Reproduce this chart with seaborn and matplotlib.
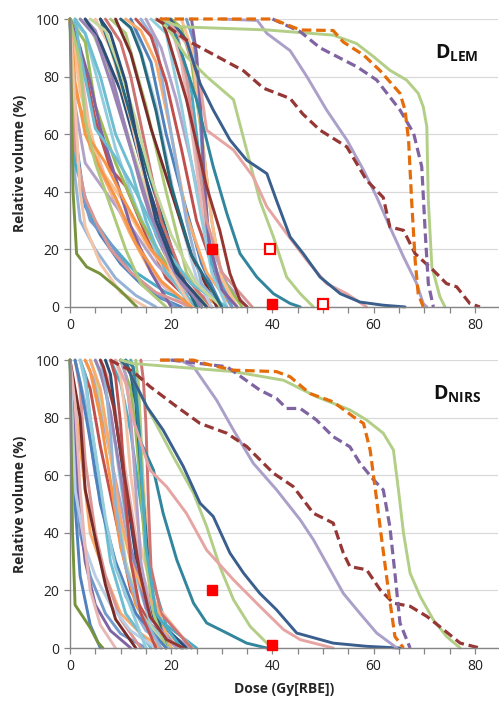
import numpy as np
import pandas as pd
import matplotlib
matplotlib.use("Agg")
import matplotlib.pyplot as plt
import seaborn as sns
from matplotlib.ticker import MultipleLocator

# ---------------- data: DVH curves (dose Gy[RBE], relative volume %) -------------
# LEM panel - prominent curves
lem_orange_x = [17.8, 40, 45.5, 52, 54, 58, 61.3, 65.2, 66.2, 66.9, 67.5, 68.2, 68.8, 69.8]
lem_orange_y = [100, 100, 96.2, 96, 92, 87.5, 82, 74.2, 68.4, 57.9, 37, 16.2, 4.6, 0]
lem_purple_x = [40, 45.5, 49.4, 56.7, 60.6, 65.2, 67.9, 69.5, 70.2, 70.8, 71.8]
lem_purple_y = [100, 95.6, 90, 83.4, 78.8, 68.4, 60.3, 48.7, 25.5, 8.1, 0]
lem_green_x = [17.8, 21.7, 38.9, 52, 56.6, 60, 63.2, 66.5, 68.8, 69.8, 70.5, 70.8, 71.5, 73.1, 74.1]
lem_green_y = [100, 97.3, 96.2, 94.4, 91.5, 86.9, 82.2, 78.8, 74.2, 69.5, 62.6, 37, 13.9, 3.5, 0]
lem_dred_x = [17, 18.4, 23, 28, 34.3, 38.2, 43.5, 46, 49.4, 54.7, 58.6, 61.9, 63.2, 65.9, 68.2, 71.8, 74.4, 76.4, 79, 81]
lem_dred_y = [100, 98.5, 92.7, 88, 82, 76, 72.4, 67, 61.4, 55.6, 44, 38, 27.8, 26.6, 18.5, 12.7, 8.1, 7, 1.2, 0]
lem_lav_x = [30, 37, 38.9, 43.5, 46.8, 50.7, 54.7, 58, 60.6, 63.2, 65.9, 68.5, 69.8, 70.5]
lem_lav_y = [100, 99.5, 95, 89, 80, 68.4, 58, 47.5, 38.2, 27.8, 17.4, 8.1, 1.2, 0]
lem_blue_x = [19.8, 23, 25.7, 28.3, 31.6, 34.9, 38.9, 40.8, 43.5, 46.1, 49.4, 53.4, 57.3, 61.9, 66.2]
lem_blue_y = [100, 92.7, 77.6, 68.4, 58, 51, 46.3, 37, 24.3, 18.5, 10.4, 4.6, 1.7, 0.6, 0]
lem_pink_x = [19, 23, 25.7, 27, 32.3, 36.2, 38.9, 42.8, 46.8, 50.7, 54.7, 58.6]
lem_pink_y = [100, 91.5, 77.6, 61.4, 54.5, 45.2, 34.8, 25.5, 16.2, 8.1, 4.6, 0]
lem_lgreen_x = [17, 19.1, 23, 27, 32.3, 34.9, 37.5, 40.2, 42.8, 45.5, 48.1]
lem_lgreen_y = [100, 97.3, 87, 80, 72, 54.5, 37, 24.3, 10.4, 4.6, 0]
lem_teal_x = [19, 20.4, 25, 28.3, 31, 33.6, 36.9, 40.2, 43.5, 45.5]
lem_teal_y = [100, 97, 72, 48.7, 32.4, 18.5, 10.4, 4.6, 1.2, 0]
lem_red_x = [18, 19.1, 23, 27, 29.6, 31.6, 33.6, 35]
lem_red_y = [100, 95, 72, 41.7, 26.6, 11.6, 2.3, 0]
lem_olive_x = [0, 0.6, 1.3, 3.3, 5.9, 9.9, 13.2]
lem_olive_y = [100, 40, 18.5, 13.9, 11.6, 5.8, 0]

# LEM panel - dense cluster of organ curves
lem_cluster = [
    ([0, 1, 3, 6, 10, 14, 18, 22], [100, 60, 35, 25, 15, 8, 3, 0]),
    ([0, 2, 4, 8, 12, 16, 20, 24], [100, 80, 55, 40, 25, 12, 5, 0]),
    ([0, 1, 2, 5, 9, 13, 17], [100, 45, 30, 20, 10, 4, 0]),
    ([0, 2, 5, 8, 11, 15, 19, 25], [100, 90, 65, 48, 42, 25, 10, 0]),
    ([0, 1, 3, 7, 12, 17, 22, 28], [100, 70, 50, 40, 28, 15, 6, 0]),
    ([0, 3, 6, 9, 13, 18, 24], [100, 95, 75, 55, 35, 15, 0]),
    ([0, 2, 4, 7, 10, 14, 18, 23], [100, 85, 60, 45, 33, 20, 8, 0]),
    ([0, 1, 4, 8, 13, 19, 26], [100, 50, 32, 22, 12, 5, 0]),
    ([0, 3, 5, 9, 14, 20, 27], [100, 92, 70, 50, 30, 12, 0]),
    ([0, 2, 6, 10, 15, 21, 28], [100, 75, 48, 38, 22, 8, 0]),
    ([0, 1, 2, 4, 8, 12, 16, 21], [100, 65, 42, 30, 22, 12, 6, 0]),
    ([0, 2, 4, 6, 9, 12, 16, 20], [100, 90, 78, 62, 45, 28, 12, 0]),
    ([0, 1, 3, 5, 8, 12, 17, 24], [100, 55, 38, 30, 20, 12, 5, 0]),
    ([1, 3, 6, 9, 12, 15, 19, 25], [100, 95, 80, 60, 48, 30, 12, 0]),
    ([0, 1, 4, 7, 11, 16, 22, 30], [100, 75, 58, 50, 36, 20, 8, 0]),
    ([2, 4, 7, 10, 14, 18, 22, 27], [100, 97, 85, 68, 45, 25, 10, 0]),
    ([3, 5, 8, 11, 14, 17, 21, 26], [100, 96, 82, 62, 42, 25, 10, 0]),
    ([3, 6, 10, 14, 18, 22, 26], [100, 92, 75, 50, 28, 10, 0]),
    ([5, 8, 12, 16, 20, 24], [100, 90, 65, 35, 12, 0]),
    ([6, 9, 13, 17, 21, 25], [100, 85, 60, 38, 15, 0]),
    ([8, 11, 15, 19, 23, 27], [100, 95, 70, 40, 12, 0]),
    ([7, 10, 12, 15, 18, 22, 28], [100, 92, 80, 55, 30, 12, 0]),
    ([10, 13, 17, 21, 25, 28], [100, 95, 70, 35, 10, 0]),
    ([9, 12, 16, 20, 24, 29], [100, 88, 62, 40, 18, 0]),
    ([12, 16, 19, 22, 26, 30], [100, 85, 60, 40, 15, 0]),
    ([11, 14, 17, 20, 23, 27, 32], [100, 96, 85, 60, 32, 12, 0]),
    ([14, 17, 20, 23, 26, 30], [100, 92, 60, 30, 8, 0]),
    ([13, 16, 19, 22, 25, 29, 33], [100, 94, 78, 55, 30, 10, 0]),
    ([15, 18, 21, 24, 27, 31, 35], [100, 90, 72, 50, 25, 8, 0]),
    ([16, 19, 22, 25, 28, 31], [100, 95, 70, 40, 12, 0]),
    ([17, 20, 22, 24, 26, 29, 33], [100, 97, 85, 62, 35, 12, 0]),
    ([18, 21, 24, 26, 28, 32], [100, 95, 75, 45, 15, 0]),
    ([20, 22, 24, 26, 28, 30, 34], [100, 97, 85, 60, 30, 10, 0]),
    ([22, 24, 26, 28, 30, 33], [100, 90, 60, 30, 10, 0]),
    ([23, 24.5, 25.5, 26.2, 27, 29, 32], [100, 92, 75, 50, 28, 10, 0]),
    ([24, 25, 25.8, 26.5, 27.5, 30, 33], [100, 88, 70, 45, 22, 6, 0]),
    ([19, 21, 23, 25, 27, 30, 36], [100, 96, 80, 55, 30, 12, 0]),
    ([1, 2, 5, 9, 13, 18, 24, 31], [100, 88, 62, 52, 40, 22, 8, 0]),
    ([0, 1, 3, 6, 9, 13, 18, 24], [100, 78, 60, 48, 38, 22, 9, 0]),
    ([4, 7, 10, 13, 16, 20, 25, 30], [100, 96, 82, 65, 45, 25, 8, 0]),
    ([2, 5, 8, 12, 16, 20, 26], [100, 94, 78, 55, 32, 14, 0]),
    ([6, 8, 11, 14, 17, 21, 27], [100, 95, 78, 52, 30, 12, 0]),
    ([0, 1, 2, 3, 6, 10, 15], [100, 70, 40, 28, 15, 5, 0]),
    ([10, 12, 14, 17, 20, 24, 30], [100, 97, 88, 68, 42, 18, 0]),
    ([0, 2, 3, 5, 8, 11, 14, 19], [100, 85, 65, 50, 35, 20, 8, 0]),
]

# NIRS panel - prominent curves
nirs_orange_x = [17.8, 24.4, 27, 32.3, 40.8, 43.5, 47.4, 52, 56, 58, 59.3, 60.6, 61.6, 62.9, 64.2, 65.9]
nirs_orange_y = [100, 100, 98.6, 96.5, 96, 94.2, 88.4, 85.5, 80.3, 78, 68.8, 51.4, 37.6, 20.2, 4, 0]
nirs_purple_x = [20, 31, 37.5, 40.8, 42.8, 45.5, 48.7, 52, 55.3, 57.3, 60, 61.9, 63.2, 64.2, 65.2, 67.2]
nirs_purple_y = [100, 97.7, 89.6, 86.7, 83.2, 83.2, 79.2, 73.4, 69.9, 64.2, 58.4, 54.9, 42.2, 26, 8.7, 0]
nirs_green_x = [10, 12.5, 32.3, 42.2, 48.7, 55.3, 58.6, 61.9, 63.9, 64.9, 65.9, 67.2, 69.2, 71.8, 74.4, 77.1]
nirs_green_y = [100, 98.8, 96, 93, 87.3, 82.7, 79.2, 74.6, 68.8, 54.9, 39.9, 26, 17.9, 9.8, 4, 0]
nirs_dred_x = [8, 9.2, 12.5, 15.8, 21.1, 25.7, 31, 34.9, 40.2, 44.1, 48.1, 52, 54, 55.3, 58.6, 61.3, 63.9, 67.2, 70.5, 73.8, 77.1, 81]
nirs_dred_y = [100, 98.8, 96, 90.8, 83.8, 78, 74.6, 70, 60.7, 56.1, 46.8, 43.4, 33, 28.3, 27.2, 20.2, 15.6, 14.5, 11, 6.4, 1.7, 0]
nirs_lav_x = [18, 21.7, 24.4, 29, 32.3, 36.2, 40.8, 45.5, 48.1, 51.4, 54, 57.3, 60.6, 64.6]
nirs_lav_y = [100, 100, 97.7, 86, 75.7, 64.2, 55, 44.5, 37.6, 27.2, 19, 12, 5.2, 0]
nirs_blue_x = [10, 11.2, 15.2, 18.4, 22.4, 25.7, 28.3, 31.6, 34.3, 37.5, 40.8, 44.8, 52, 58.6, 65.2]
nirs_blue_y = [100, 97.7, 83.8, 75.7, 63, 50.3, 45.7, 33, 26, 19, 13.3, 5.2, 1.7, 0.6, 0]
nirs_lgreen_x = [10, 11.9, 15.2, 20.4, 24.4, 27, 29.6, 32.3, 35.6, 38.9, 40.8]
nirs_lgreen_y = [100, 95.4, 83.8, 66.5, 53.8, 42.2, 28.3, 16.8, 7.5, 1.7, 0]
nirs_pink_x = [9, 11, 12.5, 15.8, 19.1, 23, 27, 32.3, 37.5, 42.2, 45.5, 52]
nirs_pink_y = [100, 92, 79.2, 61.8, 56, 46.8, 34, 23.7, 14.5, 6.4, 2.9, 0]
nirs_teal_x = [11, 12.5, 13.8, 16.5, 18.4, 21.1, 24.4, 27, 31, 34.9, 38.9]
nirs_teal_y = [100, 97.7, 72.2, 61.8, 46.8, 30.6, 15.6, 8.7, 5.2, 1.7, 0]
nirs_red_x = [6, 6.6, 8.6, 11.2, 13.8, 15.8, 19.1, 22.4]
nirs_red_y = [100, 97.7, 83.8, 55, 26, 11, 2.9, 0]
nirs_olive_x = [0, 0.5, 1, 2.5, 4, 5.5, 6.5]
nirs_olive_y = [100, 40, 15, 11, 7, 2, 0]

# NIRS panel - dense cluster
nirs_cluster = [
    ([0, 1, 2, 4, 6], [100, 50, 25, 8, 0]),
    ([0, 2, 4, 7, 10, 14, 18], [100, 70, 40, 25, 12, 5, 0]),
    ([1, 3, 5, 8, 11, 15, 20], [100, 85, 60, 35, 18, 6, 0]),
    ([2, 4, 6, 9, 12, 16, 22], [100, 90, 70, 45, 20, 8, 0]),
    ([3, 5, 7, 10, 13, 17, 24], [100, 92, 75, 50, 25, 8, 0]),
    ([5, 7, 9, 11, 13, 16, 20], [100, 90, 70, 45, 25, 8, 0]),
    ([6, 8, 10, 12, 14, 17, 22], [100, 92, 72, 50, 28, 10, 0]),
    ([8, 10, 12, 14, 16, 19, 25], [100, 92, 75, 50, 25, 8, 0]),
    ([10, 12, 13, 14, 15, 17, 20], [100, 90, 75, 55, 30, 10, 0]),
    ([12, 13, 14, 15, 16, 18, 22], [100, 90, 70, 45, 20, 6, 0]),
    ([0, 1, 2, 4, 7, 10, 15], [100, 60, 40, 25, 12, 5, 0]),
    ([0, 1, 2, 3, 5, 8, 12], [100, 75, 45, 30, 15, 6, 0]),
    ([1, 2, 3, 5, 7, 10, 14], [100, 90, 65, 40, 25, 10, 0]),
    ([2, 3, 4, 6, 8, 11, 16], [100, 95, 80, 55, 30, 12, 0]),
    ([3, 4, 6, 8, 10, 13, 18], [100, 96, 80, 58, 35, 15, 0]),
    ([4, 5, 7, 9, 11, 14, 19], [100, 95, 78, 55, 30, 12, 0]),
    ([5, 6, 8, 10, 12, 15, 21], [100, 96, 82, 60, 35, 14, 0]),
    ([7, 8, 9, 11, 13, 16, 23], [100, 95, 80, 55, 32, 12, 0]),
    ([9, 10, 11, 12, 14, 17, 24], [100, 94, 80, 60, 35, 15, 0]),
    ([11, 12, 13, 14, 15, 16, 19], [100, 95, 85, 62, 40, 18, 0]),
    ([13, 13.5, 14, 14.5, 15, 16.5, 19], [100, 92, 75, 50, 30, 12, 0]),
    ([14, 14.5, 15, 15.5, 16, 18, 24], [100, 93, 78, 50, 28, 12, 0]),
    ([0, 1, 3, 5, 8, 12, 17], [100, 55, 35, 25, 15, 6, 0]),
    ([0, 2, 3, 5, 7, 9, 13], [100, 80, 55, 38, 22, 10, 0]),
    ([1, 2, 4, 6, 9, 13, 19], [100, 92, 72, 50, 30, 12, 0]),
    ([4, 6, 8, 10, 12, 15, 17, 20], [100, 90, 68, 45, 30, 18, 15, 0]),
    ([6, 7, 8, 9, 11, 14, 18], [100, 92, 75, 50, 28, 12, 0]),
    ([8, 9, 10, 11, 12, 14, 17], [100, 94, 78, 52, 30, 12, 0]),
    ([10, 11, 12, 13, 14, 16, 21], [100, 95, 80, 55, 30, 10, 0]),
    ([2, 3, 5, 7, 9, 12, 15], [100, 92, 68, 45, 28, 14, 0]),
    ([0, 1, 2, 3, 4, 6, 9], [100, 85, 55, 35, 20, 8, 0]),
    ([12, 12.8, 13.5, 14.2, 15, 17, 22], [100, 95, 80, 58, 35, 12, 0]),
]

# constraint markers (dose, volume)
lem_filled_x = [28, 40]
lem_filled_y = [20, 1]
lem_open_x = [39.5, 50]
lem_open_y = [20, 1]
nirs_filled_x = [28, 40]
nirs_filled_y = [20, 1]

palette = ["#4F81BD", "#F9AB6B", "#95B3D7", "#C0504D", "#B3A2C7", "#93CDDD",
           "#E6B9B8", "#4BACC6", "#9BBB59", "#FAC090", "#729ACA", "#8064A2",
           "#D99694", "#6FBDD1", "#F79646", "#C3D69B", "#9983B5", "#2C4D75",
           "#F2C4A8", "#276A7C", "#AFC97A", "#CD7371", "#B9CDE5", "#772C2A"]

sns.set_theme(style="white")
plt.rcParams['font.family'] = ['Open Sans', 'DejaVu Sans']
plt.rcParams['mathtext.fontset'] = 'custom'
plt.rcParams['mathtext.bf'] = 'Open Sans:bold'
plt.rcParams['mathtext.rm'] = 'Open Sans'

fig = plt.figure(figsize=(4.99, 7.04), dpi=100)
ax1 = fig.add_axes([0.1403, 0.564, 0.857, 0.409])
ax2 = fig.add_axes([0.1403, 0.0795, 0.857, 0.409])

LW = 2.1


def curve(ax, x, y, color, dashed=False):
    df = pd.DataFrame({'dose': x, 'vol': y})
    l = sns.lineplot(data=df, x='dose', y='vol', ax=ax, color=color, lw=LW,
                     sort=False, estimator=None)
    line = l.lines[-1]
    line.set_clip_on(False)
    line.set_solid_joinstyle('round')
    line.set_solid_capstyle('round')
    if dashed:
        line.set_linewidth(2.3)
        line.set_dashes((3, 1.5))


def panel(ax, cluster, big, filled, opened, label):
    for i, (x, y) in enumerate(cluster):
        curve(ax, x, y, palette[i % len(palette)])
    for x, y, c, d in big:
        curve(ax, x, y, c, d)
    ax.plot(filled[0], filled[1], ls='none', marker='s', ms=7, color='#FF0000',
            clip_on=False, zorder=10)
    if opened is not None:
        ax.plot(opened[0], opened[1], ls='none', marker='s', ms=6.5, mfc='white',
                mec='#FF0000', mew=1.6, clip_on=False, zorder=10)
    ax.set_xlim(0, 84.5)
    ax.set_ylim(0, 100)
    ax.xaxis.set_major_locator(MultipleLocator(20))
    ax.xaxis.set_minor_locator(MultipleLocator(5))
    ax.yaxis.set_major_locator(MultipleLocator(20))
    ax.grid(axis='y', color='#D9D9D9', lw=0.9, zorder=0)
    ax.set_axisbelow(True)
    for s in ['top', 'right']:
        ax.spines[s].set_visible(False)
    for s in ['left', 'bottom']:
        ax.spines[s].set_color('#868686')
        ax.spines[s].set_linewidth(1.0)
    ax.tick_params(axis='both', which='both', direction='out', length=4,
                   width=0.9, color='#868686', labelsize=10, labelcolor='#222222',
                   bottom=True, left=True)
    ax.tick_params(axis='x', pad=4)
    ax.set_ylabel('Relative volume (%)', fontsize=10, fontweight='bold', labelpad=6)
    ax.set_xlabel('')
    ax.text(0.905, 0.88, label, transform=ax.transAxes, fontsize=14,
            ha='center', va='center', color='#111111')


lem_big = [
    (lem_olive_x, lem_olive_y, '#77933C', False),
    (lem_red_x, lem_red_y, '#943634', False),
    (lem_teal_x, lem_teal_y, '#31859C', False),
    (lem_lgreen_x, lem_lgreen_y, '#B3CF87', False),
    (lem_pink_x, lem_pink_y, '#E6A5A3', False),
    (lem_blue_x, lem_blue_y, '#3A5F8D', False),
    (lem_lav_x, lem_lav_y, '#ABA0C9', False),
    (lem_green_x, lem_green_y, '#B3CF87', False),
    (lem_dred_x, lem_dred_y, '#953735', True),
    (lem_purple_x, lem_purple_y, '#8064A2', True),
    (lem_orange_x, lem_orange_y, '#E46C0A', True),
]
nirs_big = [
    (nirs_olive_x, nirs_olive_y, '#77933C', False),
    (nirs_red_x, nirs_red_y, '#943634', False),
    (nirs_teal_x, nirs_teal_y, '#31859C', False),
    (nirs_lgreen_x, nirs_lgreen_y, '#B3CF87', False),
    (nirs_pink_x, nirs_pink_y, '#E6A5A3', False),
    (nirs_blue_x, nirs_blue_y, '#3A5F8D', False),
    (nirs_lav_x, nirs_lav_y, '#ABA0C9', False),
    (nirs_green_x, nirs_green_y, '#B3CF87', False),
    (nirs_dred_x, nirs_dred_y, '#953735', True),
    (nirs_purple_x, nirs_purple_y, '#8064A2', True),
    (nirs_orange_x, nirs_orange_y, '#E46C0A', True),
]

panel(ax1, lem_cluster, lem_big, (lem_filled_x, lem_filled_y),
      (lem_open_x, lem_open_y), r'$\mathbf{D_{LEM}}$')
panel(ax2, nirs_cluster, nirs_big, (nirs_filled_x, nirs_filled_y),
      None, r'$\mathbf{D_{NIRS}}$')
ax2.set_xlabel('Dose (Gy[RBE])', fontsize=10, fontweight='bold', labelpad=6)

fig.savefig('out.png', dpi=100)
